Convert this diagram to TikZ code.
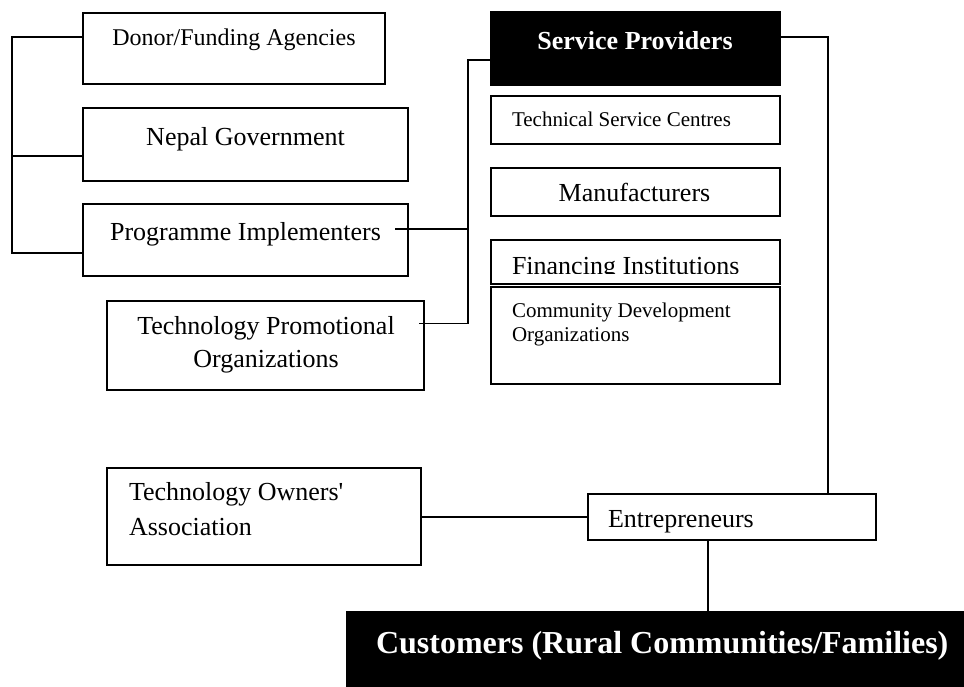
\documentclass[tikz,border=0pt]{standalone}
\usepackage{fontspec}
\setmainfont{Liberation Serif}
\usetikzlibrary{calc}
\begin{document}
\begin{tikzpicture}[x=1pt,y=-1pt,
  box/.style={draw=black, line width=1.6pt, rectangle, inner sep=0pt, outer sep=0pt, anchor=north west},
  darkbox/.style={box, fill=black},
  wire/.style={line width=1.5pt, line join=miter, line cap=rect},
  lbl/.style={inner sep=0pt, outer sep=0pt, font=\fontsize{26}{33}\selectfont},
  smalllbl/.style={inner sep=0pt, outer sep=0pt, font=\fontsize{21}{24.5}\selectfont},
  headlbl/.style={inner sep=0pt, outer sep=0pt, text=white, font=\fontsize{26}{33}\selectfont\bfseries},
]
\useasboundingbox (0,0) rectangle (964,686);

% left column: funding and implementing bodies
\node[box, minimum width=302pt, minimum height=71pt] (donor) at (83,13) {};
\node[lbl, font=\fontsize{24}{30}\selectfont, anchor=base] (donor-t) at (234,45) {Donor/Funding Agencies};

\node[box, minimum width=325pt, minimum height=73pt] (nepal) at (83,108) {};
\node[lbl, anchor=base] (nepal-t) at (245.5,145) {Nepal Government};

\node[box, minimum width=325pt, minimum height=72pt] (prog) at (83,204) {};
\node[lbl, anchor=base] (prog-t) at (245.5,240) {Programme Implementers};

% two-line labels: the base anchor sits on the last line
\node[box, minimum width=317pt, minimum height=89pt] (tpo) at (107,301) {};
\node[lbl, anchor=base, align=center] (tpo-t) at (266,367) {Technology Promotional\\Organizations};

\node[box, minimum width=314pt, minimum height=97pt] (toa) at (107,468) {};
\node[lbl, anchor=base west, align=left, font=\fontsize{26}{35}\selectfont] (toa-t) at (129,535) {Technology Owners\textquotesingle\\Association};

% service provider stack
\node[darkbox, minimum width=289pt, minimum height=73pt] (sp) at (491,12) {};
\node[headlbl, anchor=base] (sp-t) at (635,49) {Service Providers};

\node[box, minimum width=289pt, minimum height=48pt] (tsc) at (491,96) {};
\node[smalllbl, anchor=base west] (tsc-t) at (512,126) {Technical Service Centres};

\node[box, minimum width=289pt, minimum height=48pt] (manu) at (491,168) {};
\node[lbl, anchor=base] (manu-t) at (634.5,201) {Manufacturers};

\node[box, minimum width=289pt, minimum height=44pt] (fin) at (491,240) {};
\begin{scope}
  \clip (491,240) rectangle (780,273.5);
  \node[lbl, anchor=base west] (fin-t) at (512,274.5) {Financing Institutions};
\end{scope}

\node[box, minimum width=289pt, minimum height=97pt] (cdo) at (491,287) {};
\node[smalllbl, anchor=base west, align=left] (cdo-t) at (512,341.5) {Community Development\\Organizations};

% entrepreneurs and customers
\node[box, minimum width=288pt, minimum height=46pt] (ent) at (588,494) {};
\node[lbl, anchor=base west] (ent-t) at (608,527) {Entrepreneurs};

\node[darkbox, minimum width=625pt, minimum height=80pt] (cust) at (347,612) {};
\node[headlbl, font=\fontsize{32}{38}\selectfont\bfseries, anchor=base west] (cust-t) at (376,653) {Customers (Rural Communities/Families)};

% bus lines and connection points
\coordinate (lbus) at (12,0);
\coordinate (rbus) at (468,0);
\coordinate (donor-in) at ($(donor.west)+(0,-11.5)$);
\coordinate (nepal-in) at ($(nepal.west)+(0,11.5)$);
\coordinate (prog-in) at ($(prog.west)+(0,13)$);
\coordinate (prog-out) at ($(prog.east)+(-12,-11)$);
\coordinate (tpo-out) at ($(tpo.east)+(-4,-22)$);
\coordinate (sp-in) at ($(sp.west)+(0,11.5)$);
\coordinate (sp-out) at ($(sp.east)+(0,-11.5)$);
\coordinate (ent-in) at ($(ent.north east)+(-48,0)$);
\coordinate (ent-down) at ($(ent.south)+(-24,0)$);
\coordinate (toa-out) at ($(toa.east)+(0,0.5)$);

% left bracket joining the funding bodies
\draw[wire] (donor-in) -- (donor-in -| lbus) -- (prog-in -| lbus) -- (prog-in);
\draw[wire] (nepal-in) -- (nepal-in -| lbus);

% implementers and promoters to service providers
\draw[wire] (prog-out) -- (prog-out -| rbus);
\draw[wire] (sp-in) -- (sp-in -| rbus) -- (tpo-out -| rbus) -- (tpo-out);

% service providers down to entrepreneurs
\draw[wire] (sp-out) -| (ent-in);

% owners' association to entrepreneurs
\draw[wire] (toa-out) -- (toa-out -| ent.west);

% entrepreneurs to customers
\draw[wire] (ent-down) -- (ent-down |- cust.north);
\end{tikzpicture}
\end{document}
